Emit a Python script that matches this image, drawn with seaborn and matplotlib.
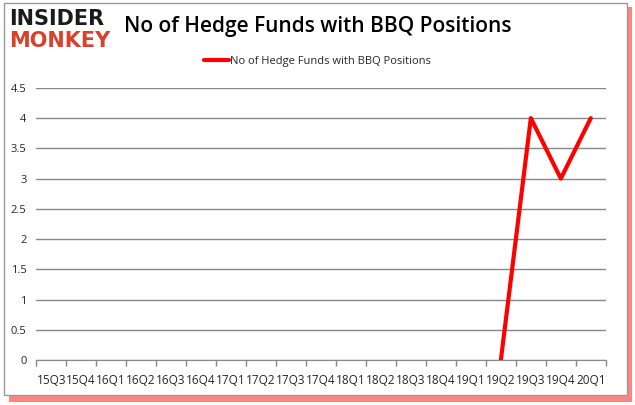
import matplotlib
matplotlib.use("Agg")
import matplotlib.pyplot as plt
import seaborn as sns
import numpy as np
import pandas as pd
from matplotlib.patches import Rectangle

quarters = ["15Q3", "15Q4", "16Q1", "16Q2", "16Q3", "16Q4", "17Q1", "17Q2", "17Q3",
            "17Q4", "18Q1", "18Q2", "18Q3", "18Q4", "19Q1", "19Q2", "19Q3", "19Q4", "20Q1"]
funds = [np.nan] * 15 + [0, 4, 3, 4]
series_name = "No of Hedge Funds with BBQ Positions"
yticks = [0, 0.5, 1, 1.5, 2, 2.5, 3, 3.5, 4, 4.5]

sns.set_style("white")
plt.rcParams['font.family'] = ['Open Sans', 'DejaVu Sans']

fig = plt.figure(figsize=(6.35, 4.05), dpi=100)
# frame and shadow
fig.patches.append(Rectangle((0.014, 0.008), 0.982, 0.975, transform=fig.transFigure,
                             facecolor="#ff3030", edgecolor="none", zorder=0, alpha=0.6))
fig.patches.append(Rectangle((0.007, 0.025), 0.981, 0.968, transform=fig.transFigure,
                             facecolor="white", edgecolor="#999999", linewidth=1, zorder=1))

ax = fig.add_axes([0.057, 0.111, 0.897, 0.672])
ax.set_zorder(3)
ax.set_facecolor("none")
df = pd.DataFrame({"x": np.arange(len(quarters)), "y": funds})
sns.lineplot(data=df.dropna(), x="x", y="y", ax=ax, color="#ff0000", linewidth=3,
             label=series_name, legend=False)

ax.set_xlim(-0.5, len(quarters) - 0.5)
ax.set_ylim(0, 4.5)
ax.set_yticks(yticks)
ax.set_yticklabels([f"{v:g}" for v in yticks], fontsize=8)
ax.set_xticks(np.arange(len(quarters)))
ax.set_xticklabels(quarters, fontsize=8.5)
ax.set_xticks(np.arange(len(quarters) + 1) - 0.5, minor=True)
ax.tick_params(axis="x", which="major", bottom=False, length=0, pad=10)
ax.tick_params(axis="x", which="minor", bottom=True, length=4, color="#888888", width=1)
ax.tick_params(axis="y", length=0, pad=7)
ax.grid(axis="y", color="#888888", linewidth=1)
ax.set_axisbelow(True)
for s in ["left", "right", "top"]:
    ax.spines[s].set_visible(False)
ax.spines["bottom"].set_color("#888888")
ax.set_xlabel("")
ax.set_ylabel("")

leg = fig.legend(handles=ax.get_lines()[:1], labels=[series_name], loc="center",
                 bbox_to_anchor=(0.5, 0.848), frameon=False, fontsize=8,
                 handlelength=2.2, handletextpad=0.1)
leg.set_zorder(4)

fig.text(0.5, 0.935, series_name, ha="center", va="center", fontsize=15, color="black",
         fontweight="semibold", zorder=4)
fig.text(0.014, 0.953, "INSIDER", ha="left", va="center", fontsize=15, fontweight="bold",
         color="#1a1a1a", family="DejaVu Sans", zorder=4)
fig.text(0.014, 0.898, "MONKEY", ha="left", va="center", fontsize=15, fontweight="bold",
         color="#d9412b", family="DejaVu Sans", zorder=4)

fig.savefig("out.png", dpi=100)
